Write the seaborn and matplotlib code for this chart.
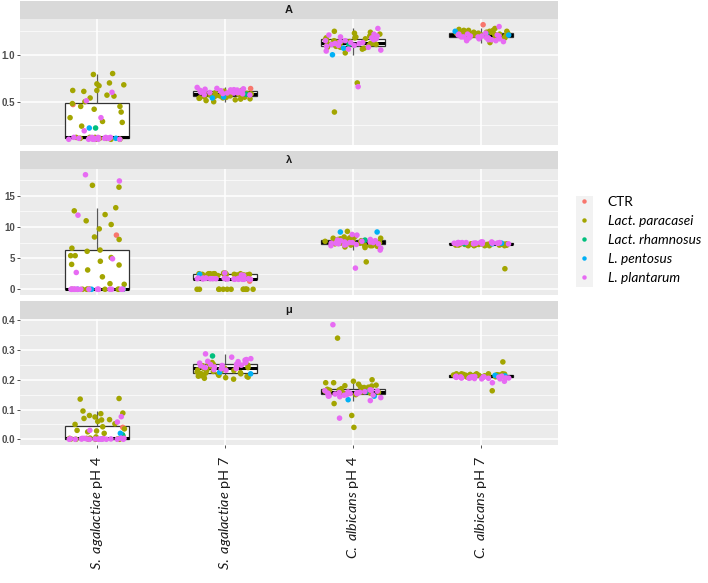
import numpy as np
import pandas as pd
import matplotlib
matplotlib.use("Agg")
import matplotlib.pyplot as plt
import seaborn as sns
from matplotlib.lines import Line2D
from matplotlib.patches import Rectangle
from matplotlib.ticker import MultipleLocator

# categories on x and facet rows
categories = ["S. agalactiae pH 4", "S. agalactiae pH 7", "C. albicans pH 4", "C. albicans pH 7"]
tick_labels = [r"$\it{S.\ agalactiae}$ pH 4", r"$\it{S.\ agalactiae}$ pH 7",
               r"$\it{C.\ albicans}$ pH 4", r"$\it{C.\ albicans}$ pH 7"]
panels = ["A", "λ", "μ"]

# strains, same order in every value list below
species_names = ["CTR", "Lact. paracasei", "Lact. rhamnosus", "L. pentosus", "L. plantarum"]
species_counts = [1, 32, 1, 2, 24]
palette = ["#F8766D", "#A3A500", "#00BF7D", "#00B0F6", "#E76BF3"]

# ---- A ----
a_sag4 = [0.47,
          0.80, 0.79, 0.70, 0.68, 0.67, 0.69, 0.62, 0.61,
          0.62, 0.57, 0.56, 0.54, 0.48, 0.50, 0.45, 0.45,
          0.42, 0.39, 0.33, 0.29, 0.28, 0.24, 0.11, 0.10,
          0.12, 0.11, 0.10, 0.11, 0.12, 0.11, 0.10, 0.12,
          0.22,
          0.22, 0.11,
          0.60, 0.51, 0.33, 0.19, 0.11, 0.10, 0.12, 0.11,
          0.10, 0.11, 0.12, 0.10, 0.11, 0.12, 0.11, 0.10,
          0.11, 0.12, 0.11, 0.10, 0.12, 0.11, 0.10, 0.11]
a_sag7 = [0.64,
          0.52, 0.54, 0.553, 0.562, 0.571, 0.583, 0.531, 0.548,
          0.574, 0.592, 0.603, 0.557, 0.541, 0.578, 0.612, 0.552,
          0.566, 0.594, 0.50, 0.512, 0.561, 0.586, 0.598, 0.621,
          0.547, 0.569, 0.528, 0.589, 0.607, 0.558, 0.576, 0.536,
          0.58,
          0.54, 0.55,
          0.612, 0.624, 0.633, 0.592, 0.601, 0.642, 0.584, 0.617,
          0.626, 0.596, 0.631, 0.604, 0.652, 0.613, 0.587, 0.622,
          0.593, 0.606, 0.637, 0.572, 0.611, 0.598, 0.628, 0.575]
a_alb4 = [1.13,
          0.70, 0.39, 1.10, 1.12, 1.15, 1.18, 1.20, 1.22,
          1.08, 1.13, 1.16, 1.11, 1.09, 1.14, 1.17, 1.21,
          1.25, 1.06, 1.12, 1.19, 1.15, 1.10, 1.13, 1.24,
          1.08, 1.16, 1.02, 1.11, 1.14, 1.18, 1.23, 1.07,
          1.11,
          1.00, 1.07,
          0.66, 1.28, 1.05, 1.10, 1.15, 1.18, 1.20, 1.13,
          1.08, 1.16, 1.12, 1.22, 1.04, 1.14, 1.19, 1.11,
          1.17, 1.09, 1.13, 1.21, 1.15, 1.06, 1.12, 1.10]
a_alb7 = [1.32,
          1.20, 1.22, 1.24, 1.26, 1.23, 1.21, 1.25, 1.19,
          1.22, 1.27, 1.24, 1.20, 1.23, 1.26, 1.21, 1.18,
          1.22, 1.25, 1.24, 1.20, 1.23, 1.28, 1.21, 1.19,
          1.22, 1.24, 1.26, 1.13, 1.21, 1.23, 1.25, 1.22,
          1.22,
          1.25, 1.21,
          1.30, 1.17, 1.15, 1.19, 1.20, 1.16, 1.18, 1.21,
          1.14, 1.17, 1.19, 1.22, 1.16, 1.20, 1.18, 1.15,
          1.21, 1.19, 1.17, 1.23, 1.18, 1.20, 1.16, 1.22]

# ---- lambda ----
lam_sag4 = [8.7,
            16.7, 16.4, 13.1, 12.6, 12.0, 11.0, 10.4, 9.7,
            8.4, 8.0, 6.6, 6.3, 6.1, 5.4, 5.1, 4.5,
            3.9, 2.0, 3.1, 0.8, 5.4, 4.0, 0.9, 0.0,
            0.0, 0.0, 0.0, 0.0, 0.0, 0.0, 0.0, 0.0,
            0.0,
            0.0, 0.0,
            18.4, 17.4, 11.9, 4.9, 2.7, 0.0, 0.0, 0.0,
            0.0, 0.0, 0.0, 0.0, 0.0, 0.0, 0.0, 0.0,
            0.0, 0.0, 0.0, 0.0, 0.0, 0.0, 0.0, 0.0]
lam_sag7 = [1.3,
            0.0, 0.0, 0.0, 0.0, 0.0, 0.0, 0.0, 0.0,
            0.0, 0.0, 0.0, 0.0, 0.0, 2.3, 2.4, 2.5,
            2.4, 2.6, 2.3, 2.5, 2.4, 2.2, 2.5, 2.4,
            2.6, 2.3, 2.5, 2.4, 2.5, 2.3, 2.4, 2.5,
            1.8,
            2.4, 1.7,
            1.7, 1.6, 1.8, 1.7, 1.6, 1.75, 1.65, 1.7,
            1.8, 1.6, 1.7, 1.75, 1.65, 1.7, 1.6, 1.8,
            1.7, 2.3, 1.75, 1.65, 2.2, 1.7, 1.6, 2.6]
lam_alb4 = [7.6,
            4.4, 7.0, 7.2, 7.5, 7.8, 8.0, 8.2, 8.5,
            9.3, 6.8, 7.1, 7.4, 7.7, 7.9, 8.1, 8.3,
            6.9, 7.3, 7.6, 7.8, 8.0, 7.2, 7.5, 8.4,
            6.7, 7.0, 7.7, 8.2, 7.4, 7.9, 6.9, 8.1,
            7.9,
            9.2, 9.2,
            3.4, 7.3, 7.5, 7.8, 8.0, 8.8, 7.6, 7.2,
            6.3, 7.4, 7.7, 7.5, 7.9, 7.1, 8.7, 7.6,
            7.3, 6.6, 7.8, 7.4, 7.5, 7.2, 7.7, 7.0]
lam_alb7 = [7.3,
            3.3, 7.0, 7.1, 7.2, 7.3, 7.1, 7.2, 7.0,
            7.3, 7.2, 7.1, 7.2, 7.3, 7.0, 7.2, 7.1,
            7.3, 7.2, 7.1, 7.2, 7.0, 7.3, 7.1, 7.2,
            7.2, 7.1, 7.3, 7.2, 7.0, 7.1, 7.2, 7.3,
            7.3,
            7.4, 7.3,
            7.4, 7.5, 7.3, 7.6, 7.4, 7.5, 7.3, 7.4,
            7.5, 7.4, 7.6, 7.3, 7.5, 7.4, 7.3, 7.5,
            7.4, 7.6, 7.4, 7.3, 7.5, 7.4, 7.5, 7.4]

# ---- mu ----
mu_sag4 = [0.040,
           0.137, 0.135, 0.095, 0.088, 0.086, 0.080, 0.075, 0.070,
           0.065, 0.066, 0.060, 0.052, 0.050, 0.042, 0.035, 0.030,
           0.028, 0.020, 0.025, 0.010, 0.008, 0.002, 0.000, 0.003,
           0.001, 0.000, 0.004, 0.002, 0.000, 0.001, 0.003, 0.000,
           0.015,
           0.020, 0.001,
           0.076, 0.058, 0.030, 0.000, 0.002, 0.001, 0.000, 0.003,
           0.000, 0.001, 0.002, 0.000, 0.004, 0.001, 0.000, 0.002,
           0.003, 0.000, 0.001, 0.002, 0.000, 0.001, 0.003, 0.000]
mu_sag7 = [0.24,
           0.202, 0.211, 0.221, 0.232, 0.241, 0.249, 0.214, 0.224,
           0.233, 0.205, 0.243, 0.252, 0.218, 0.209, 0.236, 0.238,
           0.258, 0.226, 0.212, 0.229, 0.207, 0.244, 0.219, 0.247,
           0.231, 0.215, 0.223, 0.239, 0.255, 0.228, 0.213, 0.220,
           0.28,
           0.22, 0.225,
           0.287, 0.252, 0.261, 0.268, 0.242, 0.249, 0.257, 0.234,
           0.245, 0.276, 0.251, 0.259, 0.238, 0.266, 0.248, 0.232,
           0.262, 0.243, 0.254, 0.271, 0.241, 0.256, 0.247, 0.237]
mu_alb4 = [0.16,
           0.34, 0.08, 0.04, 0.20, 0.12, 0.19, 0.195, 0.18,
           0.17, 0.175, 0.16, 0.165, 0.15, 0.172, 0.182, 0.162,
           0.155, 0.168, 0.164, 0.185, 0.158, 0.176, 0.152, 0.171,
           0.166, 0.179, 0.161, 0.156, 0.169, 0.19, 0.159, 0.174,
           0.16,
           0.145, 0.133,
           0.385, 0.071, 0.15, 0.155, 0.16, 0.145, 0.151, 0.162,
           0.13, 0.157, 0.148, 0.165, 0.158, 0.143, 0.154, 0.149,
           0.163, 0.14, 0.156, 0.152, 0.166, 0.146, 0.159, 0.153]
mu_alb7 = [0.21,
           0.26, 0.163, 0.21, 0.215, 0.22, 0.212, 0.218, 0.21,
           0.216, 0.22, 0.214, 0.208, 0.217, 0.212, 0.22, 0.215,
           0.21, 0.218, 0.213, 0.216, 0.22, 0.211, 0.214, 0.219,
           0.212, 0.215, 0.21, 0.217, 0.213, 0.216, 0.22, 0.214,
           0.212,
           0.215, 0.213,
           0.19, 0.195, 0.205, 0.21, 0.208, 0.212, 0.206, 0.21,
           0.203, 0.209, 0.211, 0.207, 0.204, 0.21, 0.208, 0.205,
           0.212, 0.206, 0.209, 0.207, 0.203, 0.21, 0.208, 0.206]

panel_values = {
    "A": [a_sag4, a_sag7, a_alb4, a_alb7],
    "λ": [lam_sag4, lam_sag7, lam_alb4, lam_alb7],
    "μ": [mu_sag4, mu_sag7, mu_alb4, mu_alb7],
}
panel_major = {"A": 0.5, "λ": 5, "μ": 0.1}
panel_fmt = {"A": "{:.1f}", "λ": "{:.0f}", "μ": "{:.1f}"}

# long table
strain_species = [s for s, n in zip(species_names, species_counts) for _ in range(n)]
rows = []
for p in panels:
    for cat, vals in zip(categories, panel_values[p]):
        for sp, v in zip(strain_species, vals):
            rows.append({"panel": p, "group": cat, "species": sp, "value": v})
df = pd.DataFrame(rows)

plt.rcParams["mathtext.fontset"] = "custom"
plt.rcParams["mathtext.it"] = "Lato:italic"
plt.rcParams["mathtext.rm"] = "Lato"

W, H = 708, 583
fig = plt.figure(figsize=(W / 100, H / 100), dpi=100)

# pixel layout of the plot areas
px_left, px_right = 20, 558
plot_tops = [19, 169, 319]
plot_h = 126
strip_h = 18

np.random.seed(7)
for i, p in enumerate(panels):
    top = plot_tops[i]
    ax = fig.add_axes([px_left / W, 1 - (top + plot_h) / H,
                       (px_right - px_left) / W, plot_h / H])
    sub = df[df["panel"] == p]
    sns.boxplot(data=sub, x="group", y="value", order=categories, ax=ax,
                color="white", linecolor="#333333", linewidth=0.9, width=0.5,
                showfliers=False, showcaps=False, saturation=1,
                medianprops={"color": "black", "linewidth": 2.2},
                whiskerprops={"color": "#595959"})
    sns.stripplot(data=sub, x="group", y="value", order=categories,
                  hue="species", hue_order=species_names, palette=palette,
                  jitter=0.22, size=4.0, linewidth=0, ax=ax, legend=False,
                  zorder=3)
    ax.set_facecolor("#EBEBEB")
    ax.set_xlim(-0.6, 3.6)
    ax.margins(y=0.05)
    ax.autoscale(axis="y")
    ax.yaxis.set_major_locator(MultipleLocator(panel_major[p]))
    ax.yaxis.set_minor_locator(MultipleLocator(panel_major[p] / 2))
    ax.set_axisbelow(True)
    ax.grid(which="major", color="white", linewidth=1.1)
    ax.grid(which="minor", axis="y", color="white", linewidth=0.5)
    ax.xaxis.grid(True, which="major", color="white", linewidth=1.1)
    for s in ax.spines.values():
        s.set_visible(False)
    ax.set_xlabel("")
    ax.set_ylabel("")
    ax.tick_params(axis="y", which="major", length=2.5, width=0.6, color="#333333",
                   labelsize=7, labelcolor="#4D4D4D", pad=1)
    ax.tick_params(axis="y", which="minor", length=0)
    yt = [t for t in ax.get_yticks() if ax.get_ylim()[0] <= t <= ax.get_ylim()[1]]
    ax.set_yticks(yt)
    ax.set_yticklabels([panel_fmt[p].format(t) for t in yt], fontweight="bold",
                       fontfamily="Liberation Sans")
    ax.set_xticks(range(len(categories)))
    if i < 2:
        ax.tick_params(axis="x", length=0, labelbottom=False)
    else:
        ax.tick_params(axis="x", length=2.5, width=0.6, color="#333333", pad=5)
        ax.set_xticklabels(tick_labels, rotation=90, fontsize=10.4,
                           fontfamily="Lato", color="#1A1A1A", va="top", ha="center")

    # facet strip
    sax = fig.add_axes([px_left / W, 1 - top / H, (px_right - px_left) / W, strip_h / H])
    sax.set_facecolor("#D9D9D9")
    sax.set_xticks([])
    sax.set_yticks([])
    for s in sax.spines.values():
        s.set_visible(False)
    sax.text(0.5, 0.5, p, ha="center", va="center", fontsize=8,
             fontweight="bold", color="#1A1A1A", transform=sax.transAxes,
             fontfamily="Liberation Sans")

# legend
fig.add_artist(Rectangle((576 / W, 1 - 287 / H), 17 / W, 91 / H,
                         transform=fig.transFigure, facecolor="#F2F2F2",
                         edgecolor="none", zorder=0))
handles = [Line2D([], [], marker="o", linestyle="", markersize=3.2,
                  markerfacecolor=c, markeredgewidth=0) for c in palette]
leg = fig.legend(handles, species_names, loc="center left",
                 bbox_to_anchor=(579 / W, 1 - 240 / H), frameon=False,
                 handlelength=0.8, handletextpad=1.3, labelspacing=0.52,
                 borderpad=0, borderaxespad=0,
                 prop={"family": "Lato", "size": 9.8})
for t in leg.get_texts()[1:]:
    t.set_fontstyle("italic")

fig.savefig("out.png", dpi=100)
